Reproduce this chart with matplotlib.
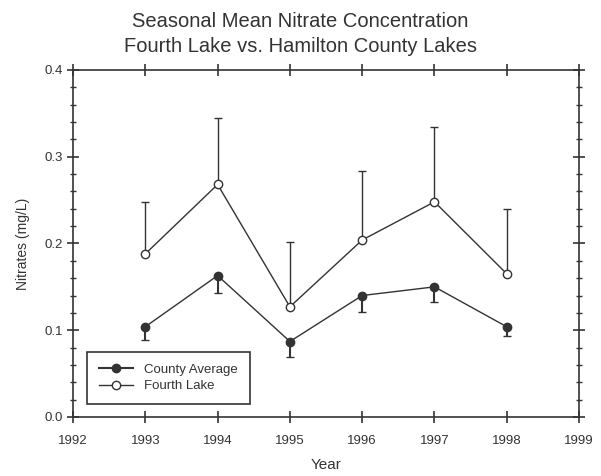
import matplotlib.pyplot as plt
from matplotlib.lines import Line2D
from matplotlib.ticker import MultipleLocator

years = [1993, 1994, 1995, 1996, 1997, 1998]
county_avg = [0.104, 0.163, 0.087, 0.140, 0.150, 0.104]
county_err = [0.015, 0.020, 0.018, 0.019, 0.017, 0.011]  # lower side only
fourth_lake = [0.188, 0.268, 0.127, 0.204, 0.248, 0.165]
fourth_err = [0.060, 0.077, 0.075, 0.079, 0.086, 0.075]  # upper side only
xticks = [1992, 1993, 1994, 1995, 1996, 1997, 1998, 1999]

plt.rcParams['font.family'] = ['Liberation Sans', 'DejaVu Sans']
ink = '#333333'

fig = plt.figure(figsize=(6.01, 4.76), dpi=100)
ax = fig.add_axes([0.1215, 0.124, 0.842, 0.729])

zeros = [0] * len(years)
ax.errorbar(years, fourth_lake, yerr=[zeros, fourth_err], color=ink, lw=1,
            marker='o', mfc='white', mec=ink, ms=6, capsize=3, elinewidth=1,
            zorder=2)
ax.errorbar(years, county_avg, yerr=[county_err, zeros], color=ink, lw=1,
            marker='o', mfc=ink, mec=ink, ms=6, capsize=3, elinewidth=1.5,
            zorder=3)

ax.set_xlim(1992, 1999)
ax.set_ylim(0, 0.4)
ax.set_xticks(xticks)
ax.yaxis.set_major_locator(MultipleLocator(0.1))
ax.yaxis.set_minor_locator(MultipleLocator(0.02))
ax.yaxis.set_major_formatter(plt.FuncFormatter(lambda v, p: '%.1f' % v))
ax.tick_params(which='both', direction='inout', top=True, right=True,
               labelright=False, labeltop=False, colors=ink, labelsize=9.5)
ax.tick_params(which='major', length=8, width=1.2)
ax.tick_params(which='minor', length=5, width=1)
ax.tick_params(axis='x', pad=9)
for s in ax.spines.values():
    s.set_color(ink)
    s.set_linewidth(1.2)

ax.set_xlabel('Year', fontsize=11, color=ink, labelpad=8)
ax.set_ylabel('Nitrates (mg/L)', fontsize=10, color=ink, labelpad=10)
fig.text(0.5, 0.955, 'Seasonal Mean Nitrate Concentration', ha='center',
         va='center', fontsize=14.5, color=ink)
fig.text(0.5, 0.903, 'Fourth Lake vs. Hamilton County Lakes', ha='center',
         va='center', fontsize=14.5, color=ink)

handles = [Line2D([], [], color=ink, lw=1.5, marker='o', mfc=ink, mec=ink, ms=6),
           Line2D([], [], color=ink, lw=1, marker='o', mfc='white', mec=ink, ms=6)]
leg = ax.legend(handles, ['County Average', 'Fourth Lake'], loc='lower left',
                bbox_to_anchor=(0.028, 0.037), borderaxespad=0, fontsize=9.5,
                fancybox=False, edgecolor=ink, framealpha=1, handlelength=2.6,
                borderpad=0.9, labelspacing=0.3)
leg.get_frame().set_linewidth(1.2)
for t in leg.get_texts():
    t.set_color(ink)

fig.savefig('out.png', dpi=100)
